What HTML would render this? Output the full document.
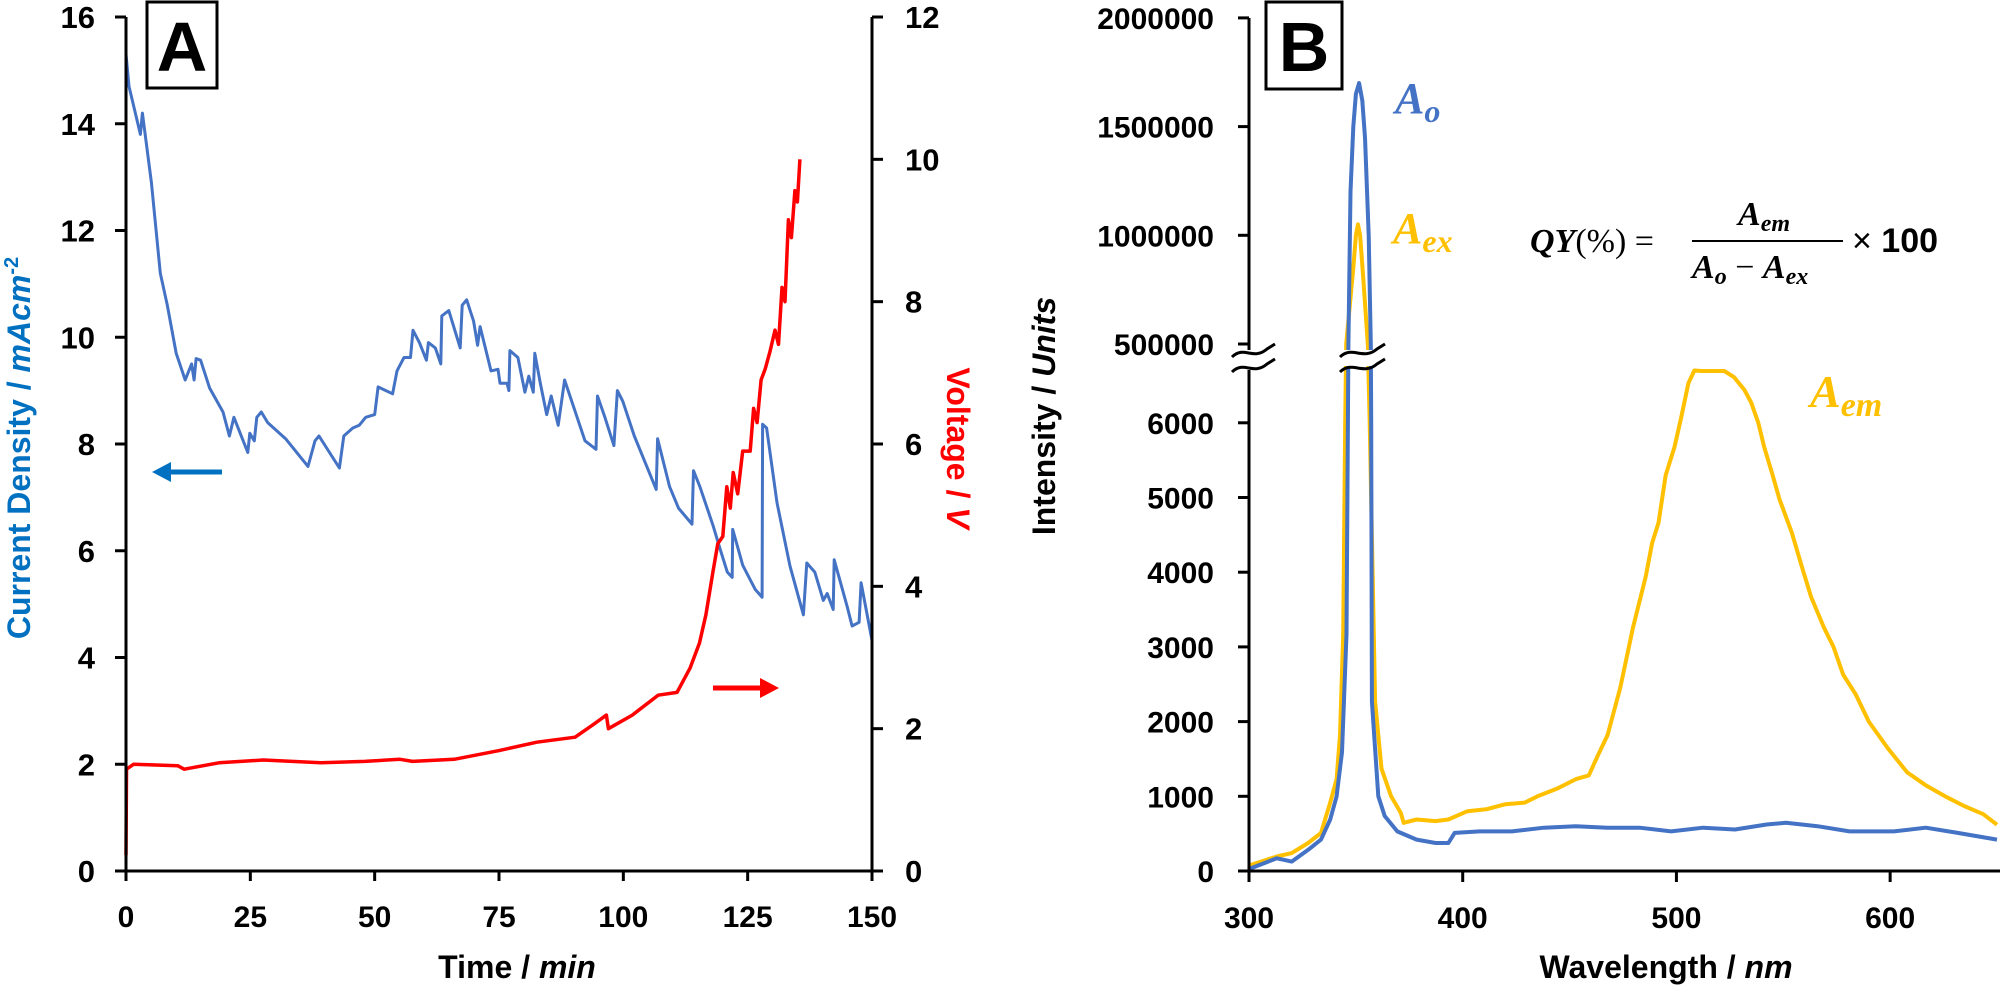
<!DOCTYPE html>
<html><head><meta charset="utf-8">
<style>
html,body{margin:0;padding:0;background:#fff;}
svg{display:block;}
text{font-family:"Liberation Sans",sans-serif;font-weight:bold;}
.m{font-family:"Liberation Serif",serif;font-style:italic;font-weight:bold;}
</style></head>
<body>
<svg id="fig" width="2000" height="985" viewBox="0 0 2000 985" xmlns="http://www.w3.org/2000/svg">
<g id="A"></g>
<g id="B"></g>
</svg>
<script>
// ---------- Panel A data ----------
const timeCurrent=[0,0,0.6,2.9,3.3,5.1,6.9,8.3,10.1,11.9,13.2,13.7,14.1,15,16.8,19.5,20.8,21.7,24.5,24.9,25.8,26.3,27.2,28.5,32.1,36.6,38,38.8,42.9,43.8,45.6,46.9,48.2,50,50.7,53.6,54.5,55.9,57.2,57.7,59,60.4,60.8,62.2,63.3,63.5,64.9,67.2,67.6,68.5,69.9,70.7,71.2,73.4,74.8,75.2,76.6,77,77.2,78.8,80.2,81,81.9,82.2,83.3,84.6,85.5,86.9,88.2,92.3,94.5,94.8,96.3,98.1,98.8,99.9,102.2,106.6,106.9,109.3,111.1,113.8,114.1,115.4,118,119.4,120.9,121.9,122,124,126.5,127.9,128,128.8,130.9,133.5,136.2,136.9,138.5,140.2,141,142.2,142.4,145,146,147.4,147.8,150];
const currentDensity=[11.6,15.3,14.7,13.8,14.2,12.9,11.2,10.6,9.7,9.2,9.5,9.2,9.6,9.57,9.05,8.6,8.15,8.5,7.84,8.2,8.06,8.5,8.6,8.4,8.1,7.58,8.06,8.15,7.55,8.15,8.3,8.35,8.5,8.55,9.07,8.94,9.37,9.62,9.62,10.13,9.9,9.57,9.9,9.8,9.5,10.4,10.5,9.8,10.6,10.7,10.3,9.85,10.2,9.37,9.4,9.14,9.14,9.0,9.75,9.62,8.97,9.27,8.97,9.7,9.14,8.55,8.9,8.35,9.2,8.06,7.9,8.9,8.5,7.97,9.0,8.8,8.15,7.15,8.1,7.2,6.8,6.5,7.5,7.2,6.48,6.05,5.6,5.5,6.4,5.73,5.28,5.13,8.37,8.3,6.9,5.72,4.8,5.77,5.6,5.07,5.2,4.9,5.83,4.96,4.59,4.66,5.4,4.32];
const timeVoltage=[0,0.1,1.5,10.4,11.7,18.7,27.6,39.2,48,55.1,57.6,66,74.9,82.6,90.3,94.2,96.6,97,101.8,107,110.8,113.4,115.3,116.6,118,119,120,120.8,121.5,122.1,123,124,125.5,126.2,126.9,127.7,128.5,129.5,130.5,131.2,131.9,132.5,133.2,133.8,134.5,135,135.5];
const voltage=[0.22,1.43,1.5,1.48,1.43,1.52,1.56,1.52,1.54,1.57,1.54,1.57,1.69,1.81,1.88,2.07,2.19,2.0,2.19,2.47,2.51,2.85,3.2,3.6,4.2,4.6,4.7,5.4,5.1,5.6,5.3,5.9,5.9,6.5,6.3,6.9,7.05,7.3,7.6,7.4,8.2,8.0,9.15,8.9,9.56,9.4,10.0];
const xTicksA=[0,25,50,75,100,125,150];
const yTicksA=[0,2,4,6,8,10,12,14,16];
const yTicksV=[0,2,4,6,8,10,12];

// ---------- Panel B data ----------
const wlAo=[300,300.9,307,313,320,327.7,333.7,338,341,343.5,345.6,346.3,346.5,347.5,348.8,350,351.5,353,354.3,356,357,357.2,357.5,360.5,363.5,369.4,378.4,387.3,393.3,396.2,408,423,438,452.9,467.8,482.7,497.5,512.5,527.4,542.2,551.2,566,581,601.8,616.7,631.6,650];
const intAo=[0,36,104,170,126,284,420,690,1000,1590,3170,6000,500000,1200000,1500000,1650000,1700000,1620000,1450000,1000000,500000,6000,2270,1000,736,530,420,375,375,510,530,530,580,600,580,580,530,580,555,623,645,600,530,530,580,510,420];
const wlAex=[300,300.9,313,320,327.7,333.7,338,341,342.6,344.1,345,345.5,348.8,350,351,352,353.5,355.6,356.5,359,362,366.5,371,372.4,378.4,387.3,393.3,402.2,411,420,429,435,444,453,459,463.3,467.8,473.7,479.7,485.6,488.6,491.6,495,499.1,502.3,505.6,508.4,511.7,516.4,519.6,522.4,527,531.8,535,538.3,541,545,548.2,554,558.6,563,569,573.5,578,584,590,599,608,617,625.7,634.6,643.6,650];
const intAex=[0,81,194,240,375,510,916,1230,1820,3170,6000,500000,850000,1000000,1050000,1000000,800000,500000,6000,2270,1370,1000,780,645,690,668,690,800,826,894,916,1000,1100,1230,1280,1550,1820,2450,3260,3940,4390,4660,5300,5676,6078,6530,6700,6840,6840,6870,6810,6610,6440,6270,6000,5680,5300,4980,4530,4080,3670,3260,3000,2630,2360,2000,1640,1320,1140,1000,870,760,620];
const xTicksB=[300,400,500,600];
const yTicksBLow=[0,1000,2000,3000,4000,5000,6000];
const yTicksBHigh=[500000,1000000,1500000,2000000];

const NS="http://www.w3.org/2000/svg";
function mk(parent,tag,attrs,txt){const e=document.createElementNS(NS,tag);for(const k in attrs)e.setAttribute(k,attrs[k]);if(txt!==undefined)e.textContent=txt;parent.appendChild(e);return e;}

// Panel A scales
const ax0=126,ax1=872,ay0=871,ay1=17;
const xA=t=>ax0+(t/150)*(ax1-ax0);
const yA=v=>ay0-(v/16)*(ay0-ay1);
const yV=v=>ay0-(v/12)*(ay0-ay1);
const A=document.getElementById('A');

let p=mk(A,'path',{d:timeCurrent.map((t,i)=>(i?'L':'M')+xA(t).toFixed(1)+' '+yA(currentDensity[i]).toFixed(1)).join(''),fill:'none',stroke:'#4472C4','stroke-width':3,'stroke-linejoin':'round'});


p=mk(A,'path',{d:timeVoltage.map((t,i)=>(i?'L':'M')+xA(t).toFixed(1)+' '+yV(voltage[i]).toFixed(1)).join(''),fill:'none',stroke:'#FF0000','stroke-width':3.5,'stroke-linejoin':'round'});



// axes A
mk(A,'line',{x1:ax0,y1:ay1,x2:ax0,y2:ay0+2,stroke:'#000','stroke-width':3,});
mk(A,'line',{x1:ax1,y1:ay1,x2:ax1,y2:ay0+2,stroke:'#000','stroke-width':3,});
mk(A,'line',{x1:ax0-2,y1:ay0,x2:ax1+2,y2:ay0,stroke:'#000','stroke-width':3,});
xTicksA.forEach(t=>{
  mk(A,'line',{x1:xA(t),y1:ay0,x2:xA(t),y2:ay0+10,stroke:'#000','stroke-width':3});
  const e=mk(A,'text',{x:xA(t),y:927,'font-size':30,'text-anchor':'middle'},t);
  
  
});
yTicksA.forEach(v=>{
  mk(A,'line',{x1:ax0-11,y1:yA(v),x2:ax0,y2:yA(v),stroke:'#000','stroke-width':3});
  const e=mk(A,'text',{x:95,y:yA(v)+11,'font-size':31,'text-anchor':'end'},v);
  
  
});
yTicksV.forEach(v=>{
  mk(A,'line',{x1:ax1,y1:yV(v),x2:ax1+11,y2:yV(v),stroke:'#000','stroke-width':3});
  const e=mk(A,'text',{x:905,y:yV(v)+11,'font-size':31,'text-anchor':'start'},v);
  
  
});
// arrows
mk(A,'line',{x1:222,y1:472,x2:168,y2:472,stroke:'#0070C0','stroke-width':5,});
mk(A,'polygon',{points:'152,472 171,462 171,482',fill:'#0070C0'});
mk(A,'line',{x1:713,y1:688,x2:762,y2:688,stroke:'#FF0000','stroke-width':5,});
mk(A,'polygon',{points:'779,688 760,678 760,698',fill:'#FF0000'});
// box A
mk(A,'rect',{x:147,y:2,width:70,height:86,fill:'#fff',stroke:'#000','stroke-width':3,});
mk(A,'text',{x:182,y:71,'font-size':70,'text-anchor':'middle',},'A');
// titles
let tt=mk(A,'text',{x:517,y:978,'font-size':32,'text-anchor':'middle',});
tt.innerHTML='Time / <tspan font-style="italic">min</tspan>';
tt=mk(A,'text',{transform:'translate(30,448) rotate(-90)','font-size':32,'text-anchor':'middle',fill:'#0070C0',});
tt.innerHTML='Current Density / <tspan font-style="italic">mAcm</tspan><tspan font-size="20" dy="-12">-2</tspan>';
tt=mk(A,'text',{transform:'translate(947,448) rotate(90)','font-size':32,'text-anchor':'middle',fill:'#FF0000',});
tt.innerHTML='Voltage / <tspan font-style="italic">V</tspan>';

// Panel B scales
const bx0=1249,bx1=1997,by0=871;
const xB=w=>bx0+(w-300)/350*(bx1-bx0);
function yB(I){
  if(I<=6700) return by0-I*0.0747;
  if(I>=500000) return 344-(I-500000)/500000*108.7;
  return 371-(I-6700)/(500000-6700)*27;
}
const B=document.getElementById('B');
p=mk(B,'path',{d:wlAex.map((w,i)=>(i?'L':'M')+xB(w).toFixed(1)+' '+yB(intAex[i]).toFixed(1)).join(''),fill:'none',stroke:'#FFC000','stroke-width':4,'stroke-linejoin':'round'});


p=mk(B,'path',{d:wlAo.map((w,i)=>(i?'L':'M')+xB(w).toFixed(1)+' '+yB(intAo[i]).toFixed(1)).join(''),fill:'none',stroke:'#4472C4','stroke-width':4,'stroke-linejoin':'round'});



mk(B,'line',{x1:bx0,y1:18,x2:bx0,y2:350,stroke:'#000','stroke-width':3,});
mk(B,'line',{x1:bx0,y1:370,x2:bx0,y2:by0+2,stroke:'#000','stroke-width':3,});
mk(B,'line',{x1:bx0-2,y1:by0,x2:bx1+3,y2:by0,stroke:'#000','stroke-width':3,});
xTicksB.forEach(w=>{
  mk(B,'line',{x1:xB(w),y1:by0,x2:xB(w),y2:by0+11,stroke:'#000','stroke-width':3});
  const e=mk(B,'text',{x:xB(w),y:928,'font-size':30,'text-anchor':'middle'},w);
  
  
});
yTicksBLow.concat(yTicksBHigh).forEach(v=>{
  mk(B,'line',{x1:bx0-11,y1:yB(v),x2:bx0,y2:yB(v),stroke:'#000','stroke-width':3});
  const e=mk(B,'text',{x:1214,y:yB(v)+11,'font-size':30,'text-anchor':'end'},v);
  
  
});
// break marks
function brk(x0,x1,name){
  const g=mk(B,'g',{});
  mk(g,'rect',{x:x0,y:350,width:x1-x0,height:16,fill:'#fff'});
  [351,366].forEach(y=>{
    mk(g,'path',{d:`M${x0} ${y+6} C${x0+12} ${y-6} ${x1-22} ${y+10} ${x1-8} ${y-2} L${x1} ${y-7}`,fill:'none',stroke:'#000','stroke-width':3});
  });
}
brk(1232,1275,'axis-break');
brk(1340,1385,'series-break');
// box B
mk(B,'rect',{x:1266,y:2,width:76,height:87,fill:'#fff',stroke:'#000','stroke-width':3,});
mk(B,'text',{x:1304,y:71,'font-size':70,'text-anchor':'middle',},'B');
// series labels
tt=mk(B,'text',{x:1395,y:113,'font-size':44,fill:'#4472C4','class':'m',});
tt.innerHTML='A<tspan font-size="32" dy="9">o</tspan>';
tt=mk(B,'text',{x:1393,y:243,'font-size':44,fill:'#FFC000','class':'m',});
tt.innerHTML='A<tspan font-size="32" dy="9">ex</tspan>';
tt=mk(B,'text',{x:1810,y:407,'font-size':46,fill:'#FFC000','class':'m',});
tt.innerHTML='A<tspan font-size="34" dy="9">em</tspan>';
// formula
const f=mk(B,'g',{});
tt=mk(f,'text',{x:1530,y:252,'font-size':34,'class':'m'});
tt.innerHTML='QY<tspan font-style="normal" font-weight="normal">(%) =</tspan>';
tt=mk(f,'text',{x:1738,y:225,'font-size':34,'class':'m'});
tt.innerHTML='A<tspan font-size="24" dy="6">em</tspan>';
mk(f,'line',{x1:1692,y1:241,x2:1843,y2:241,stroke:'#000','stroke-width':2});
tt=mk(f,'text',{x:1692,y:278,'font-size':34,'class':'m'});
tt.innerHTML='A<tspan font-size="24" dy="6">o</tspan><tspan font-style="normal" font-weight="normal" dy="-6"> − </tspan>A<tspan font-size="24" dy="6">ex</tspan>';
tt=mk(f,'text',{x:1852,y:252,'font-size':34,'font-family':'Liberation Serif'});
tt.innerHTML='<tspan font-weight="normal">×</tspan> 100';
// titles
tt=mk(B,'text',{x:1666,y:978,'font-size':32,'text-anchor':'middle',});
tt.innerHTML='Wavelength / <tspan font-style="italic">nm</tspan>';
tt=mk(B,'text',{transform:'translate(1055,416) rotate(-90)','font-size':32,'text-anchor':'middle',});
tt.innerHTML='Intensity / <tspan font-style="italic">Units</tspan>';
</script>
</body></html>
